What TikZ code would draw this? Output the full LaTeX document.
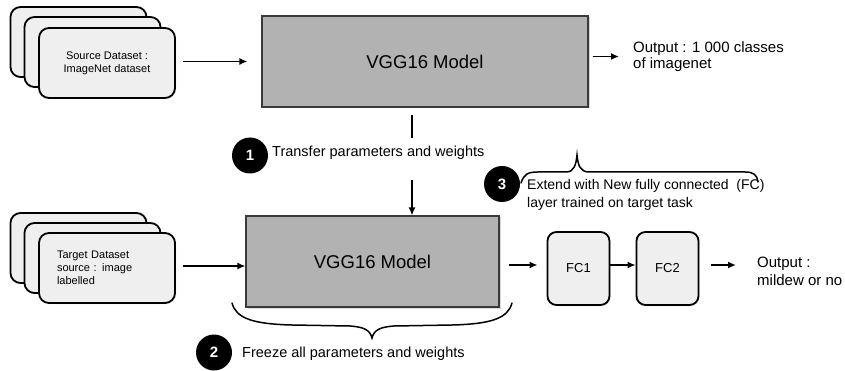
\documentclass[tikz,border=0pt]{standalone}
\usepackage{fontspec}
\setmainfont{Liberation Sans}
\usetikzlibrary{arrows.meta,shadows,calc}
\definecolor{cardfill}{HTML}{EFEFEF}
\definecolor{vggfill}{HTML}{B2B2B2}
\definecolor{vggline}{HTML}{3A3A3A}
\tikzset{
  card/.style={draw=black, line width=1.8pt, fill=cardfill, rounded corners=10pt,
    minimum width=136pt, minimum height=70pt, inner sep=0pt,
    drop shadow={shadow xshift=1pt, shadow yshift=-1pt, opacity=0.25},
    font=\fontsize{11}{13}\selectfont},
  vgg/.style={draw=vggline, line width=1.1pt, fill=vggfill, inner sep=0pt,
    drop shadow={shadow xshift=1.5pt, shadow yshift=-1.5pt, opacity=0.3},
    font=\fontsize{18.5}{22}\selectfont},
  fcbox/.style={draw=black, line width=1.8pt, fill=cardfill, rounded corners=9pt,
    minimum width=62pt, minimum height=73pt, inner sep=0pt,
    drop shadow={shadow xshift=1pt, shadow yshift=-1pt, opacity=0.25},
    font=\fontsize{13}{15}\selectfont},
  num/.style={circle, fill=black, text=white, minimum size=36pt, inner sep=0pt,
    font=\bfseries\fontsize{15}{17}\selectfont},
  lbl/.style={anchor=west, inner sep=0pt, align=left, font=\fontsize{14.5}{17}\selectfont},
  outtxt/.style={anchor=west, inner sep=0pt, align=left, font=\fontsize{15}{16}\selectfont},
  arr/.style={line width=1.6pt, -{Latex[length=8pt,width=7pt]}},
  plain/.style={line width=1.6pt},
  brace/.style={line width=1.5pt, line cap=round}
}
\begin{document}
\begin{tikzpicture}[x=1pt,y=-1pt]
\useasboundingbox (0,0) rectangle (845,371);
\fill[white] (0,0) rectangle (845,371);

% Source stack
\node[card] (s1) at (78.5,42) {};
\node[card] (s2) at (92.5,52) {};
\node[card, align=center] (s3) at (107,63) {Source Dataset :\\ImageNet dataset};

% Target stack
\node[card] (t1) at (78.5,248) {};
\node[card] (t2) at (92.5,258) {};
\node[card, text width=100pt, inner xsep=18pt, align=left] (t3) at (107,268)
  {Target Dataset\\source : image\\labelled};

% VGG boxes
\node[vgg, minimum width=326pt, minimum height=91pt] (vgg1) at (425,61.5) {VGG16 Model};
\node[vgg, minimum width=253pt, minimum height=91pt] (vgg2) at (372.5,261.5) {VGG16 Model};

% FC boxes
\node[fcbox] (fc1) at (578.5,268.5) {FC1};
\node[fcbox] (fc2) at (667.5,268.5) {FC2};

% Outputs
\node[outtxt] (out1) at (633,56.5) {Output : 1 000 classes\\of imagenet};
\node[outtxt, font=\fontsize{15}{18}\selectfont] (out2) at (757,271) {Output :\\mildew or no};

% Arrows top row
\draw[arr] ([xshift=7pt]s3.east |- vgg1.west) -- ([xshift=-14pt]vgg1.west);
\draw[arr] ([xshift=4pt]vgg1.east |- out1.west) -- ([xshift=-14pt]out1.west);

% Step 1
\node[num] (n1) at (250,155.5) {1};
\node[lbl] (l1) at (272,153) {Transfer parameters and weights};
\coordinate (c1a) at (412,115);
\coordinate (c1b) at (412,138);
\coordinate (c1c) at (412,180);
\draw[plain] (c1a) -- (c1b);
\draw[arr] (c1c) -- (c1c |- vgg2.north);

% Bottom row arrows
\draw[arr] ([xshift=7pt]t3.east |- 0,266) -- (vgg2.west |- 0,266);
\draw[arr] ([xshift=9pt]vgg2.east |- 0,265) -- ([xshift=-9pt]fc1.west |- 0,265);
\draw[arr] (fc1.east |- 0,265) -- (fc2.west |- 0,265);
\draw[arr] ([xshift=12pt]fc2.east |- 0,265) -- ([xshift=-21pt]out2.west |- 0,265);

% Brace under VGG2 (step 2)
\draw[brace] (232,303) .. controls (236,318) and (252,324) .. (292,325)
  -- (350,326) .. controls (364,327) and (370,330) .. (372,338)
  .. controls (374,330) and (380,327) .. (394,326)
  -- (452,325) .. controls (492,324) and (508,318) .. (512,303);
\node[num] (n2) at (214,352.5) {2};
\node[lbl] (l2) at (242,354) {Freeze all parameters and weights};

% Brace above FC (step 3)
\draw[brace] (521,183) .. controls (524,174) and (528,172) .. (538,172)
  -- (566,172) .. controls (574,172) and (576,165) .. (577,155)
  .. controls (578,165) and (580,172) .. (589,172)
  -- (745,172) .. controls (754,172) and (757,175) .. (758,182);
\node[num] (n3) at (502,184) {3};
\node[lbl, font=\fontsize{14}{17.5}\selectfont] (l3) at (527,195)
  {Extend with New fully connected\ \ (FC)\\layer trained on target task};
\end{tikzpicture}
\end{document}
